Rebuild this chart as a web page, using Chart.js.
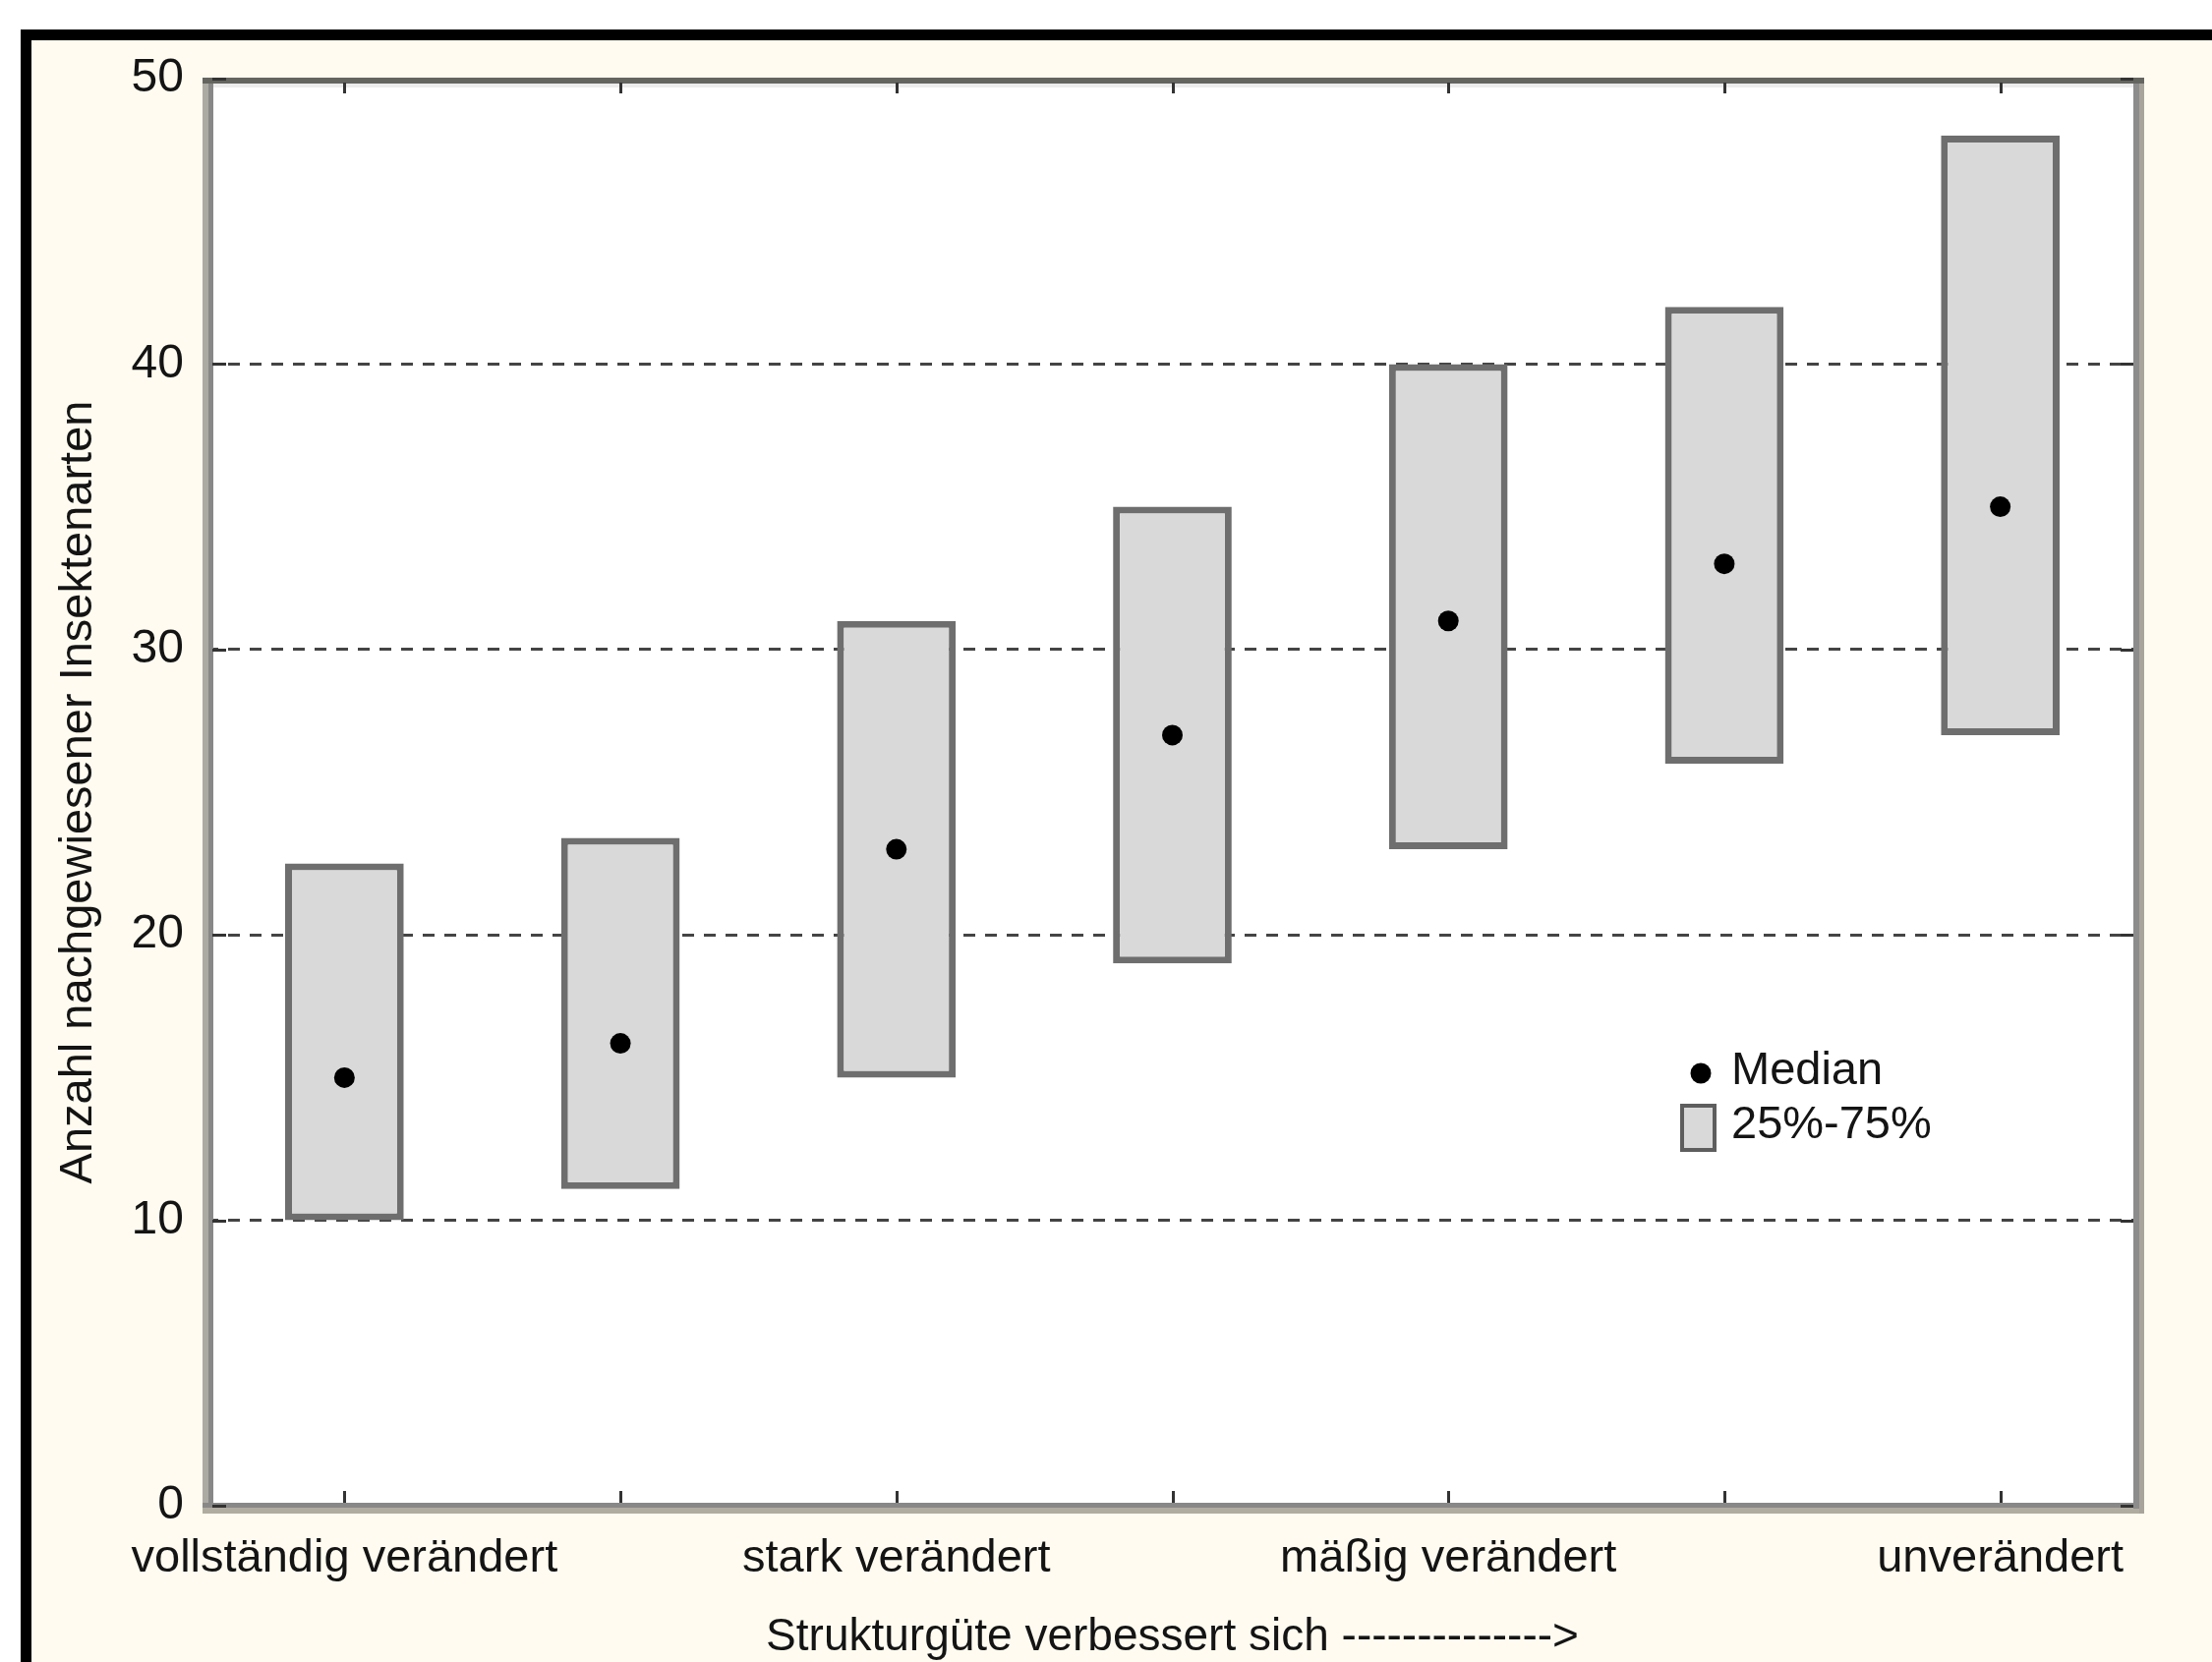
<!DOCTYPE html>
<html>
<head>
<meta charset="utf-8">
<title>Insektenarten nach Strukturgüte</title>
<script src="https://cdn.jsdelivr.net/npm/chart.js@4.4.1/dist/chart.umd.min.js"></script>
<style>
  html, body { margin: 0; padding: 0; background: #ffffff; }
  #frame {
    position: absolute; left: 21px; top: 30px; width: 2229px; height: 1661px;
    box-sizing: border-box; background: #fffbf0;
    border-left: 11px solid #000; border-top: 11px solid #000;
  }
  #wrap { position: absolute; left: 0; top: 0; width: 2250px; height: 1691px; }
</style>
</head>
<body>
<div id="frame"></div>
<div id="wrap"><canvas id="chart" width="2250" height="1691"></canvas></div>
<script>
// Categories on the x axis (only every second one carries a label)
const categories = ['vollständig verändert', '', 'stark verändert', '', 'mäßig verändert', '', 'unverändert'];
// Lower and upper quartile (25 % / 75 %) of species counts per class
const q1 = [10, 11.1, 15, 19, 23, 26, 27];
const q3 = [22.5, 23.4, 31, 35, 40, 42, 48];
// Median species count per class
const medians = [15, 16.2, 23, 27, 31, 33, 35];
// Value axis ticks
const yTicks = [0, 10, 20, 30, 40, 50];

const FONT = "'Liberation Sans', Arial, Helvetica, sans-serif";
const TEXT = '#141414';
const BOX_FILL = '#d9d9d9';
const BOX_EDGE = '#6e6e6e';

Chart.defaults.font.family = FONT;

// Plot background, bevelled frame, inward tick marks and the in-plot legend
const decorations = {
  id: 'decorations',
  beforeDraw(chart) {
    const { ctx, chartArea: a } = chart;
    ctx.save();
    ctx.fillStyle = '#ffffff';
    ctx.fillRect(a.left, a.top, a.right - a.left, a.bottom - a.top);
    ctx.restore();
  },
  afterDraw(chart) {
    const { ctx, chartArea: a, scales } = chart;
    const w = a.right - a.left, h = a.bottom - a.top;
    ctx.save();
    // frame
    ctx.fillStyle = '#ababa3'; ctx.fillRect(a.left - 4, a.top - 1, 6, h + 9);
    ctx.fillStyle = '#888888'; ctx.fillRect(a.left + 2, a.top, 5, h);
    ctx.fillStyle = '#b0aca0'; ctx.fillRect(a.left - 4, a.bottom + 2, w + 10, 6);
    ctx.fillStyle = '#888888'; ctx.fillRect(a.left - 4, a.bottom - 3, w + 4, 5);
    ctx.fillStyle = '#a8a49c'; ctx.fillRect(a.right + 1, a.top - 1, 5, h + 9);
    ctx.fillStyle = '#8c8c8c'; ctx.fillRect(a.right - 5, a.top - 1, 6, h + 4);
    ctx.fillStyle = '#ececec'; ctx.fillRect(a.left + 7, a.top + 5, w - 12, 4);
    ctx.fillStyle = '#656560'; ctx.fillRect(a.left - 4, a.top - 1, w + 10, 6);

    // inward tick marks
    ctx.strokeStyle = '#333333';
    ctx.lineWidth = 3;
    const x = scales.x, y = scales.y;
    ctx.beginPath();
    x.ticks.forEach((t, i) => {
      const px = Math.round(x.getPixelForTick(i)) + 0.5;
      ctx.moveTo(px, a.bottom - 3); ctx.lineTo(px, a.bottom - 15);
      ctx.moveTo(px, a.top + 4); ctx.lineTo(px, a.top + 15);
    });
    y.ticks.forEach((t, i) => {
      const py = Math.round(y.getPixelForTick(i)) + 0.5;
      ctx.moveTo(a.left + 6, py); ctx.lineTo(a.left + 20, py);
      ctx.moveTo(a.right - 5, py); ctx.lineTo(a.right - 18, py);
    });
    ctx.stroke();

    // legend
    const lg = chart.options.plugins.decorations;
    const med = chart.data.datasets[0], box = chart.data.datasets[1];
    ctx.fillStyle = med.pointBackgroundColor;
    ctx.beginPath(); ctx.arc(lg.x + 21, lg.y, med.pointRadius, 0, Math.PI * 2); ctx.fill();
    ctx.fillStyle = box.backgroundColor;
    ctx.fillRect(lg.x + 2, lg.y + 33, 33, 45);
    ctx.strokeStyle = '#5e5e5e'; ctx.lineWidth = 4;
    ctx.strokeRect(lg.x + 2, lg.y + 33, 33, 45);
    ctx.fillStyle = TEXT;
    ctx.font = '47px ' + FONT;
    ctx.textBaseline = 'middle';
    ctx.textAlign = 'left';
    ctx.fillText(med.label, lg.x + 52, lg.y - 2);
    ctx.fillText(box.label, lg.x + 52, lg.y + 53);
    ctx.restore();
  }
};

new Chart(document.getElementById('chart'), {
  type: 'bar',
  data: {
    labels: categories,
    datasets: [
      {
        type: 'line',
        label: 'Median',
        data: medians,
        showLine: false,
        pointRadius: 10.5,
        pointHoverRadius: 10.5,
        pointBorderWidth: 0,
        pointBackgroundColor: '#000000',
        borderColor: '#000000',
        order: 0
      },
      {
        type: 'bar',
        label: '25%-75%',
        data: q1.map((lo, i) => [lo, q3[i]]),
        backgroundColor: BOX_FILL,
        borderColor: BOX_EDGE,
        borderWidth: 7,
        borderSkipped: false,
        barPercentage: 0.43,
        categoryPercentage: 1.0,
        order: 1
      }
    ]
  },
  options: {
    responsive: false,
    animation: false,
    devicePixelRatio: 1,
    layout: { padding: { left: 0, top: 80, right: 75, bottom: 0 } },
    plugins: {
      legend: { display: false },
      tooltip: { enabled: false },
      decorations: { x: 1709, y: 1092 }
    },
    scales: {
      x: {
        offset: true,
        grid: { display: false, drawTicks: false },
        border: { display: false },
        ticks: {
          autoSkip: false, maxRotation: 0, minRotation: 0,
          padding: 26, color: TEXT, font: { size: 47 }
        },
        title: {
          display: true,
          text: 'Strukturgüte verbessert sich -------------->',
          color: TEXT,
          font: { size: 46, lineHeight: 1.0 },
          padding: { top: 0, bottom: 2 }
        },
        afterFit(scale) { scale.height = 159; }
      },
      y: {
        min: 0, max: 50,
        afterBuildTicks(scale) { scale.ticks = yTicks.map(v => ({ value: v })); },
        ticks: { padding: 23, color: TEXT, font: { size: 48 } },
        grid: {
          drawTicks: false,
          lineWidth: 3,
          color: c => (c.tick && (c.tick.value === 0 || c.tick.value === 50)) ? 'rgba(0,0,0,0)' : '#444444'
        },
        border: { display: false, dash: [12, 10] },
        title: {
          display: true,
          text: 'Anzahl nachgewiesener Insektenarten',
          color: TEXT,
          font: { size: 47 },
          padding: { top: 52, bottom: 0 }
        },
        afterFit(scale) { scale.width = 210; }
      }
    }
  },
  plugins: [decorations]
});
</script>
</body>
</html>
